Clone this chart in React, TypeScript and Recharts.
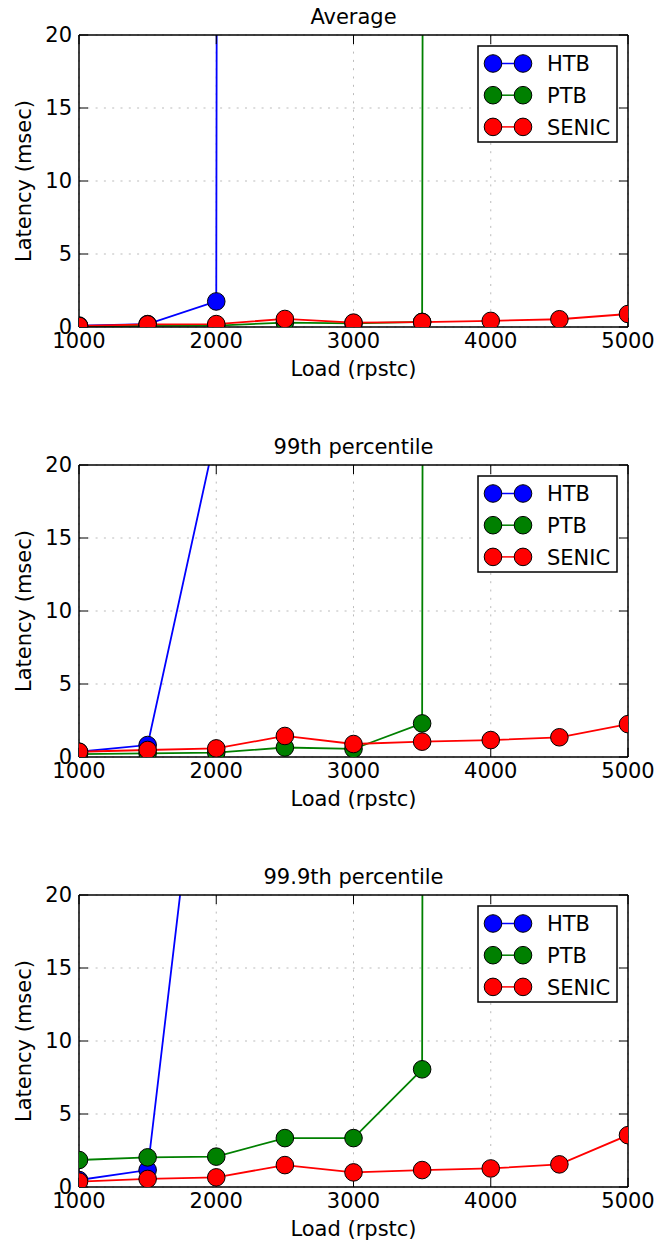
import React from 'react';
import { LineChart, Line, XAxis, YAxis, CartesianGrid, Legend } from 'recharts';

const FONT = '"DejaVu Sans", Verdana, sans-serif';
const FS = 21;

const loads = [1000, 1500, 2000, 2500, 3000, 3500, 4000, 4500, 5000];
const xTicks = [1000, 2000, 3000, 4000, 5000];
const yTicks = [0, 5, 10, 15, 20];

// latency in msec; saturated points go far off the top of the plot
const avgHtb = [0.1, 0.2, 1.75, 3000, null, null, null, null, null];
const avgPtb = [0.05, 0.08, 0.1, 0.3, 0.25, 0.35, 3000, null, null];
const avgSenic = [0.07, 0.18, 0.2, 0.55, 0.3, 0.34, 0.42, 0.53, 0.89];

const p99Htb = [0.36, 0.82, 22.3, null, null, null, null, null, null];
const p99Ptb = [0.2, 0.25, 0.3, 0.65, 0.55, 2.3, 3000, null, null];
const p99Senic = [0.36, 0.48, 0.59, 1.44, 0.89, 1.05, 1.16, 1.35, 2.25];

const p999Htb = [0.48, 1.16, 41, null, null, null, null, null, null];
const p999Ptb = [1.85, 2.03, 2.08, 3.35, 3.35, 8.06, 3000, null, null];
const p999Senic = [0.37, 0.55, 0.66, 1.5, 1.0, 1.16, 1.27, 1.55, 3.55];

const SERIES = [
  { key: 'htb', name: 'HTB', color: '#0000ff' },
  { key: 'ptb', name: 'PTB', color: '#008000' },
  { key: 'senic', name: 'SENIC', color: '#ff0000' },
];

const W = 657;
const H = 385;
const tickStyle = { fontSize: FS, fill: '#000', fontFamily: FONT };
const axisLine = { stroke: '#000', strokeWidth: 1.5 };
const tickLine = { stroke: '#000', strokeWidth: 1 };
const blank = () => '';

function LegendBox({ payload }: any) {
  const rows = payload || [];
  return (
    <svg width={142} height={100} style={{ display: 'block' }}>
      <rect x={1} y={1} width={139} height={96} fill="#fff" stroke="#000" strokeWidth={1.5} />
      {rows.map((entry: any, i: number) => {
        const cy = 18.5 + i * 31.7;
        return (
          <g key={entry.value}>
            <line x1={16} x2={46} y1={cy} y2={cy} stroke={entry.color} strokeWidth={1.5} />
            <circle cx={16} cy={cy} r={8.8} fill={entry.color} stroke="#000" strokeWidth={1} />
            <circle cx={46} cy={cy} r={8.8} fill={entry.color} stroke="#000" strokeWidth={1} />
            <text x={70} y={cy + 7.6} fontSize={FS} fontFamily={FONT} fill="#000">
              {entry.value}
            </text>
          </g>
        );
      })}
    </svg>
  );
}

function Panel({ title, htb, ptb, senic }: { title: string; htb: any[]; ptb: any[]; senic: any[] }) {
  const data = loads.map((load, i) => ({ load, htb: htb[i], ptb: ptb[i], senic: senic[i] }));
  return (
    <LineChart width={W} height={H} data={data} margin={{ top: 0, right: 0, bottom: 0, left: 0 }}>
      <CartesianGrid stroke="#bbbbbb" strokeDasharray="2 6.3" strokeWidth={1} />
      <XAxis
        dataKey="load"
        type="number"
        domain={[1000, 5000]}
        ticks={xTicks}
        interval={0}
        allowDataOverflow
        height={58}
        tickSize={-9}
        tickMargin={15}
        tick={tickStyle}
        axisLine={axisLine}
        tickLine={tickLine}
        label={{ value: 'Load (rpstc)', position: 'insideBottom', offset: 9, fontSize: FS, fill: '#000', fontFamily: FONT }}
      />
      <XAxis
        xAxisId="top"
        orientation="top"
        dataKey="load"
        type="number"
        domain={[1000, 5000]}
        ticks={xTicks}
        interval={0}
        allowDataOverflow
        height={35}
        tickSize={-9}
        tickFormatter={blank}
        axisLine={axisLine}
        tickLine={tickLine}
        label={{ value: title, position: 'center', dy: -1, fontSize: FS, fill: '#000', fontFamily: FONT }}
      />
      <YAxis
        type="number"
        domain={[0, 20]}
        ticks={yTicks}
        interval={0}
        allowDataOverflow
        width={79}
        tickSize={-9}
        tickMargin={16}
        tick={tickStyle}
        axisLine={axisLine}
        tickLine={tickLine}
        label={{
          value: 'Latency (msec)',
          angle: -90,
          position: 'insideLeft',
          offset: 24,
          fontSize: FS,
          fill: '#000',
          fontFamily: FONT,
          style: { textAnchor: 'middle' },
        }}
      />
      <YAxis
        yAxisId="right"
        orientation="right"
        type="number"
        domain={[0, 20]}
        ticks={yTicks}
        interval={0}
        allowDataOverflow
        width={29}
        tickSize={-9}
        tickFormatter={blank}
        axisLine={axisLine}
        tickLine={tickLine}
      />
      <Legend
        layout="vertical"
        verticalAlign="middle"
        align="center"
        content={<LegendBox />}
        wrapperStyle={{ top: 45, left: 477, width: 142, height: 100 }}
      />
      {SERIES.map((s) => (
        <Line
          key={s.key}
          type="linear"
          dataKey={s.key}
          name={s.name}
          stroke={s.color}
          strokeWidth={1.8}
          dot={{ r: 8.8, fill: s.color, stroke: '#000', strokeWidth: 1 }}
          activeDot={false}
          legendType="circle"
          isAnimationActive={false}
        />
      ))}
    </LineChart>
  );
}

export default function App() {
  return (
    <div style={{ position: 'absolute', top: 0, left: 0, width: W, height: 1245, background: '#fff' }}>
      <div style={{ position: 'absolute', top: 0, left: 0 }}>
        <Panel title="Average" htb={avgHtb} ptb={avgPtb} senic={avgSenic} />
      </div>
      <div style={{ position: 'absolute', top: 430, left: 0 }}>
        <Panel title="99th percentile" htb={p99Htb} ptb={p99Ptb} senic={p99Senic} />
      </div>
      <div style={{ position: 'absolute', top: 860, left: 0 }}>
        <Panel title="99.9th percentile" htb={p999Htb} ptb={p999Ptb} senic={p999Senic} />
      </div>
    </div>
  );
}
